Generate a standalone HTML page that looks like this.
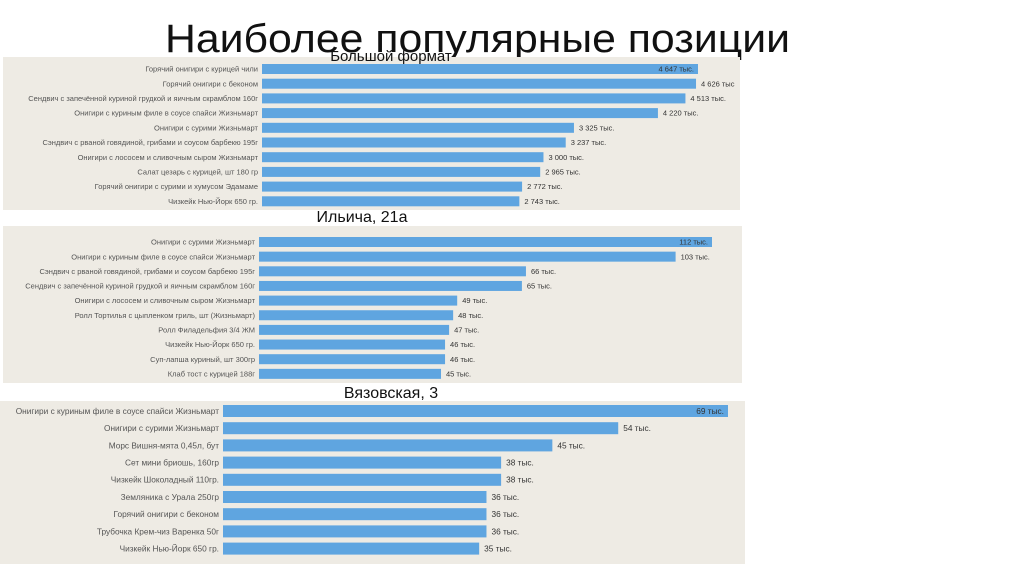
<!DOCTYPE html>
<html><head><meta charset="utf-8">
<style>
html,body{margin:0;padding:0;background:#fff;}
svg{display:block;font-family:"Liberation Sans","DejaVu Sans",sans-serif;}
</style></head>
<body>
<svg id="chart" width="1024" height="574" viewBox="0 0 1024 574" xmlns="http://www.w3.org/2000/svg">
<text x="165" y="52" font-size="40" textLength="625" lengthAdjust="spacingAndGlyphs" fill="#111">Наиболее популярные позиции</text>
</svg>
<script>
const p1Categories = ["Горячий онигири с курицей чили","Горячий онигири с беконом","Сендвич с запечённой куриной грудкой и яичным скрамблом 160г","Онигири с куриным филе в соусе спайси Жизньмарт","Онигири с сурими Жизньмарт","Сэндвич с рваной говядиной, грибами и соусом барбекю 195г","Онигири с лососем и сливочным сыром Жизньмарт","Салат цезарь с курицей, шт 180 гр","Горячий онигири с сурими и хумусом Эдамаме","Чизкейк Нью-Йорк 650 гр."];
const p1Values = [4647,4626,4513,4220,3325,3237,3000,2965,2772,2743];
const p1Labels = ["4 647 тыс.","4 626 тыс","4 513 тыс.","4 220 тыс.","3 325 тыс.","3 237 тыс.","3 000 тыс.","2 965 тыс.","2 772 тыс.","2 743 тыс."];

const p2Categories = ["Онигири с сурими Жизньмарт","Онигири с куриным филе в соусе спайси Жизньмарт","Сэндвич с рваной говядиной, грибами и соусом барбекю 195г","Сендвич с запечённой куриной грудкой и яичным скрамблом 160г","Онигири с лососем и сливочным сыром Жизньмарт","Ролл Тортилья с цыпленком гриль, шт (Жизньмарт)","Ролл Филадельфия 3/4 ЖМ","Чизкейк Нью-Йорк 650 гр.","Суп-лапша куриный, шт 300гр","Клаб тост с курицей 188г"];
const p2Values = [112,103,66,65,49,48,47,46,46,45];
const p2Labels = ["112 тыс.","103 тыс.","66 тыс.","65 тыс.","49 тыс.","48 тыс.","47 тыс.","46 тыс.","46 тыс.","45 тыс."];

const p3Categories = ["Онигири с куриным филе в соусе спайси Жизньмарт","Онигири с сурими Жизньмарт","Морс Вишня-мята 0,45л, бут","Сет мини бриошь, 160гр","Чизкейк Шоколадный 110гр.","Земляника с Урала 250гр","Горячий онигири с беконом","Трубочка Крем-чиз Варенка 50г","Чизкейк Нью-Йорк 650 гр."];
const p3Values = [69,54,45,38,38,36,36,36,35];
const p3Labels = ["69 тыс.","54 тыс.","45 тыс.","38 тыс.","38 тыс.","36 тыс.","36 тыс.","36 тыс.","35 тыс."];

const NS = "http://www.w3.org/2000/svg";
const svg = document.getElementById('chart');
function mk(tag, attrs, parent){
  const e = document.createElementNS(NS, tag);
  for (const k in attrs) e.setAttribute(k, attrs[k]);
  (parent||svg).appendChild(e);
  return e;
}
function panel(cfg, cats, vals, labels){
  const g = mk('g', {});
  
  
  const bg = mk('rect', {x:cfg.bx, y:cfg.by, width:cfg.bw, height:cfg.bh, fill:'#eeebe4'}, g);
  
  
  const t = mk('text', {x:cfg.tx, y:cfg.ty, 'font-size':cfg.tfs, 'text-anchor':'middle', fill:'#111'}, g);
  t.textContent = cfg.title;
  
  
  const maxV = Math.max(...vals);
  const xScale = v => cfg.x0 + (v / maxV) * (cfg.x1 - cfg.x0);
  const yScale = i => cfg.y0 + i * cfg.step;
  cats.forEach((c, i) => {
    const yc = yScale(i);
    const lab = mk('text', {x:cfg.x0 - 4, y:yc + cfg.fs*0.35, 'font-size':cfg.fs, 'text-anchor':'end', fill:'#555'}, g);
    lab.textContent = c;
    
    
    const xe = xScale(vals[i]);
    const bar = mk('rect', {x:cfg.x0, y:yc - cfg.bhH/2, width:xe - cfg.x0, height:cfg.bhH, fill:'#5fa5e0'}, g);
    
    
    const inside = vals[i] === maxV;
    const vl = mk('text', {x: inside ? xe - 4 : xe + 5, y:yc + cfg.fs*0.35, 'font-size':cfg.fs, 'text-anchor': inside ? 'end' : 'start', fill:'#333'}, g);
    vl.textContent = labels[i];
    
    
  });
}
panel({name:'panel-bolshoy-format', title:'Большой формат', tx:391, ty:61, tfs:15, bx:3, by:57, bw:737, bh:153, x0:262, x1:698, y0:69, step:14.7, bhH:10, fs:7.5}, p1Categories, p1Values, p1Labels);
panel({name:'panel-ilicha', title:'Ильича, 21а', tx:362, ty:222, tfs:16, bx:3, by:226, bw:739, bh:157, x0:259, x1:712, y0:242, step:14.65, bhH:10, fs:7.5}, p2Categories, p2Values, p2Labels);
panel({name:'panel-vyazovskaya', title:'Вязовская, 3', tx:391, ty:398, tfs:16, bx:0, by:401, bw:745, bh:163, x0:223, x1:728, y0:411, step:17.2, bhH:12, fs:8.3}, p3Categories, p3Values, p3Labels);
</script>
</body></html>
